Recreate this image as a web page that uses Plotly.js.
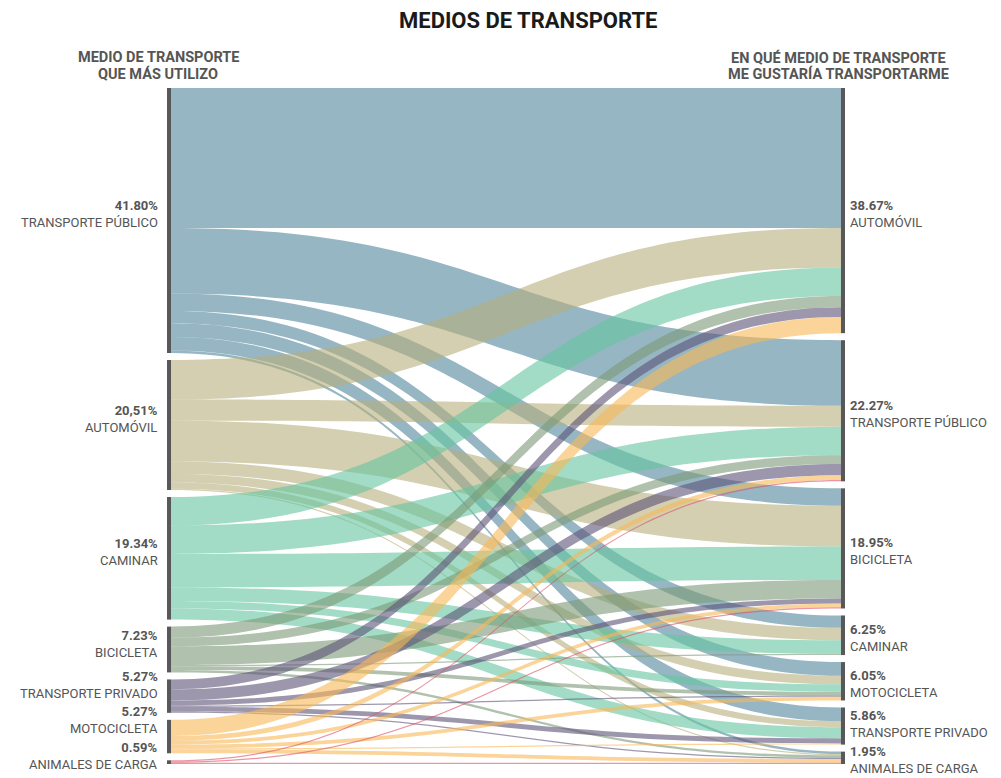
<!DOCTYPE html>
<html><head><meta charset="utf-8">
<script src="https://cdn.plot.ly/plotly-3.0.1.min.js"></script>
<style>html,body{margin:0;padding:0;background:#fff}#chart{width:1001px;height:778px}</style>
</head><body><div id="chart"></div>
<script>
// Categories
const originNames = ["TRANSPORTE PÚBLICO","AUTOMÓVIL","CAMINAR","BICICLETA","TRANSPORTE PRIVADO","MOTOCICLETA","ANIMALES DE CARGA"];
const originPct = ["41.80%","20,51%","19.34%","7.23%","5.27%","5.27%","0.59%"];
const desiredNames = ["AUTOMÓVIL","TRANSPORTE PÚBLICO","BICICLETA","CAMINAR","MOTOCICLETA","TRANSPORTE PRIVADO","ANIMALES DE CARGA"];
const desiredPct = ["38.67%","22.27%","18.95%","6.25%","6.05%","5.86%","1.95%"];
// Respondents (n = 512) from each origin to each desired medium (order of desiredNames)
const fromTransportePublico = [113,53,14,10,11,11,2];
const fromAutomovil        = [32,17,33,10,7,5,1];
const fromCaminar          = [23,23,27,11,6,9,0];
const fromBicicleta        = [9,7,15,1,3,0,2];
const fromTransportePrivado= [8,9,4,0,1,4,1];
const fromMotocicleta      = [13,4,3,0,3,1,3];
const fromAnimalesDeCarga  = [0,1,1,0,0,0,1];
const flows = [fromTransportePublico,fromAutomovil,fromCaminar,fromBicicleta,fromTransportePrivado,fromMotocicleta,fromAnimalesDeCarga];
const linkColors = ["rgba(82,133,155,0.6)","rgba(182,175,123,0.6)","rgba(102,197,160,0.6)","rgba(123,153,118,0.6)","rgba(92,82,118,0.6)","rgba(248,183,87,0.6)","rgba(220,80,100,0.6)"];

const FW = 1001, FH = 778;
const topPx = 88, botPx = 764, leftPx = 168, rightPx = 844;
const H = botPx - topPx, pad = 7;
const nO = originNames.length, nD = desiredNames.length;
const originTot = flows.map(r => r.reduce((a,b)=>a+b,0));
const desiredTot = desiredNames.map((_,j)=>flows.reduce((a,r)=>a+r[j],0));
const total = originTot.reduce((a,b)=>a+b,0);
const ky = (H - (nO-1)*pad)/total;
function centers(tots){ let y=0; return tots.map(t=>{const h=t*ky; const c=y+h/2; y+=h+pad; return c;}); }
const oC = centers(originTot), dC = centers(desiredTot);

const src=[], tgt=[], val=[], col=[];
flows.forEach((r,i)=>r.forEach((v,j)=>{ if(v>0){src.push(i);tgt.push(nO+j);val.push(v);col.push(linkColors[i]);} }));

const nodeX = originNames.map(()=>0.0015).concat(desiredNames.map(()=>0.9985));
const nodeY = oC.map(c=>c/H).concat(dC.map(c=>c/H));

const trace = {
  type:'sankey', arrangement:'fixed',
  domain:{x:[leftPx/FW, rightPx/FW], y:[1-botPx/FH, 1-topPx/FH]},
  node:{label:nodeX.map(()=>''), x:nodeX, y:nodeY, pad:pad, thickness:4,
        color:'#58585a', line:{width:0}, hoverinfo:'none'},
  link:{source:src, target:tgt, value:val, color:col, hoverinfo:'none'}
};

const font = "Roboto, 'Noto Sans', sans-serif";
const LS = 13, BLOCK = 2*1.3*LS + 2;
// place label blocks near node centres, pushing apart so they do not collide
function placeLabels(cs, shift){
  const ys = cs.map(c => topPx + c + shift);
  const maxY = FH - BLOCK/2;
  for(let i=ys.length-1;i>=0;i--){
    const lim = (i===ys.length-1) ? maxY : ys[i+1]-BLOCK;
    if(ys[i] > lim) ys[i] = lim;
  }
  return ys;
}
const oY = placeLabels(oC, -6), dY = placeLabels(dC, 3);
const ann = [];
function add(x, ypx, text, opts){ ann.push(Object.assign({xref:'paper', yref:'paper', x:x/FW, y:1-ypx/FH, text:text, showarrow:false, font:{family:font, size:LS, color:'#555'}}, opts)); }
oY.forEach((y,i)=> add(160, y, '<b>'+originPct[i]+'</b><br>'+originNames[i], {xanchor:'right', yanchor:'middle', align:'right'}));
dY.forEach((y,j)=> add(848, y, '<b>'+desiredPct[j]+'</b><br>'+desiredNames[j], {xanchor:'left', yanchor:'middle', align:'left'}));
const hf = {family:font, size:14.5, color:'#555'};
add(528, 21, '<b>MEDIOS DE TRANSPORTE</b>', {xanchor:'center', yanchor:'middle', font:{family:font, size:22, color:'#1a1a1a'}});
add(158, 58, '<b>MEDIO DE TRANSPORTE</b>', {xanchor:'center', yanchor:'middle', font:hf});
add(158, 74, '<b>QUE MÁS UTILIZO</b>', {xanchor:'center', yanchor:'middle', font:hf});
add(838, 58, '<b>EN QUÉ MEDIO DE TRANSPORTE</b>', {xanchor:'center', yanchor:'middle', font:hf});
add(838, 74, '<b>ME GUSTARÍA TRANSPORTARME</b>', {xanchor:'center', yanchor:'middle', font:hf});

const layout = {width:FW, height:FH, margin:{l:0,r:0,t:0,b:0}, paper_bgcolor:'#fff', font:{family:font}, annotations:ann, showlegend:false};
Plotly.newPlot('chart',[trace],layout,{displayModeBar:false, staticPlot:true});
</script></body></html>
